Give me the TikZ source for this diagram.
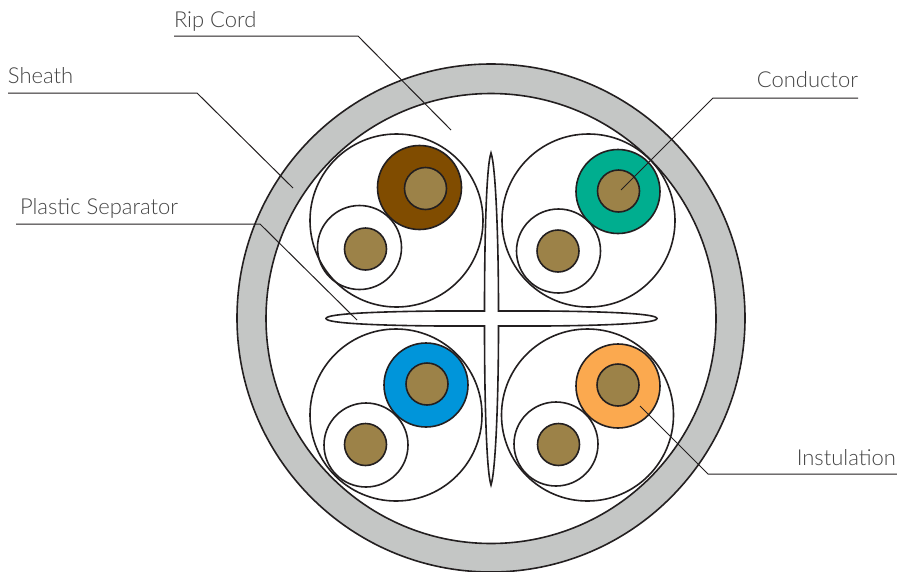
\documentclass[tikz,border=0pt]{standalone}
\usepackage{fontspec}
\setmainfont{Lato Light}
\definecolor{ink}{HTML}{231F20}
\definecolor{txt}{HTML}{444444}
\definecolor{sheathc}{HTML}{C4C6C5}
\definecolor{corec}{HTML}{9C8248}
\definecolor{brownc}{HTML}{804C00}
\definecolor{greenc}{HTML}{00AE8F}
\definecolor{bluec}{HTML}{0095DA}
\definecolor{orangec}{HTML}{FBA94F}
\tikzset{
  disc/.style={circle,draw=ink,line width=1.6pt,inner sep=0pt,outer sep=0pt,minimum size=2*#1*1pt},
  ins/.style={disc=42},
  core/.style={disc=21,fill=corec},
  leader/.style={draw=ink,line width=1pt},
  lab/.style={text=txt,font=\fontsize{22}{26}\selectfont,inner sep=0pt,outer sep=0pt}
}
\begin{document}
\begin{tikzpicture}[x=1pt,y=-1pt]
\useasboundingbox (0,0) rectangle (897,571);
\node[disc=254,fill=sheathc] (outer) at (491,318) {};
\node[disc=225,fill=white] (inner) at (491,318.5) {};
% separator
\draw[ink,line width=1.6pt,fill=white,line join=miter]
 (491,153) .. controls (486.5,165) and (484.5,235) .. (484.5,311)
 -- (440,311) .. controls (380,311.5) and (326,313.5) .. (326,318.5)
 .. controls (326,323.5) and (380,325.5) .. (440,326)
 -- (484.5,326) .. controls (484.5,400) and (486.5,472) .. (491,485)
 .. controls (495.5,472) and (498.5,400) .. (498.5,326)
 -- (545,326) .. controls (605,325.5) and (657,323.5) .. (657,318.5)
 .. controls (657,313.5) and (605,311.5) .. (545,311)
 -- (498.5,311) .. controls (498.5,235) and (495.5,165) .. (491,153) -- cycle;
% top left
\node[disc=86.5] (tlbig) at (396.5,220.5) {};
\node[ins] (tlwhite) at (359.5,247.5) {};
\node[core] (tlcoreb) at (365.5,249) {};
\node[ins,fill=brownc] (tlins) at (419.5,187.5) {};
\node[core] (tlcore) at (425.5,188.5) {};
% top right
\node[disc=86.5] (trbig) at (588.5,220.5) {};
\node[ins] (trwhite) at (558.5,251) {};
\node[core] (trcoreb) at (558,251) {};
\node[ins,fill=greenc] (trins) at (618,191.5) {};
\node[core] (trcore) at (618.5,191) {};
% bottom left
\node[disc=86] (blbig) at (396,415) {};
\node[ins] (blwhite) at (366,445) {};
\node[core] (blcoreb) at (365.5,444.5) {};
\node[ins,fill=bluec] (blins) at (426,385) {};
\node[core] (blcore) at (427,384) {};
% bottom right
\node[disc=86] (brbig) at (587.5,415) {};
\node[ins] (brwhite) at (556,444) {};
\node[core] (brcoreb) at (558.5,444.5) {};
\node[ins,fill=orangec] (brins) at (618,386) {};
\node[core] (brcore) at (618,385) {};
% labels
\node[lab,anchor=base west] (rip) at (174,27) {Rip Cord};
\node[lab,anchor=base west] (sheath) at (8,83) {Sheath};
\node[lab,anchor=base west] (plastic) at (20,214) {Plastic Separator};
\node[lab,anchor=base east] (conductor) at (858,87) {Conductor};
\node[lab,anchor=base east] (insul) at (896,465) {Instulation};
% leader ends
\coordinate (ripA) at (174,36); \coordinate (ripB) at (358,36); \coordinate (ripC) at (451,130);
\coordinate (shA) at (8,93); \coordinate (shB) at (197,93); \coordinate (shC) at (293,188);
\coordinate (plA) at (16,224); \coordinate (plB) at (260,224); \coordinate (plC) at (357,320);
\coordinate (coA) at (858,98); \coordinate (coB) at (713,98); \coordinate (coC) at (621,190);
\coordinate (inA) at (897,474); \coordinate (inB) at (708,474); \coordinate (inC) at (640,406);
\draw[leader] (ripA) -- (ripB) -- (ripC);
\draw[leader] (shA) -- (shB) -- (shC);
\draw[leader] (plA) -- (plB) -- (plC);
\draw[leader] (coA) -- (coB) -- (coC);
\draw[leader] (inA) -- (inB) -- (inC);
\end{tikzpicture}
\end{document}
